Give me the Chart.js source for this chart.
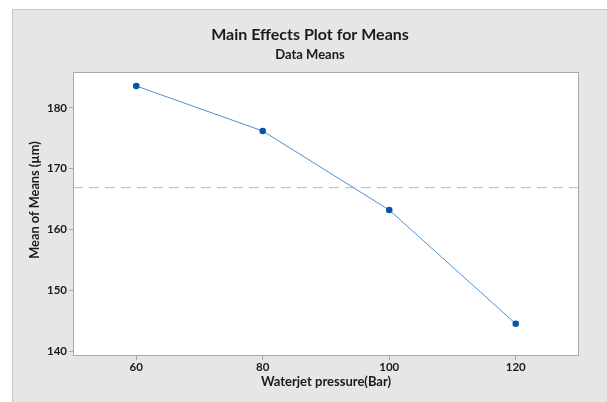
<!DOCTYPE html>
<html>
<head>
<meta charset="utf-8">
<script src="https://cdn.jsdelivr.net/npm/chart.js@4"></script>
<style>
html,body{margin:0;padding:0;background:#fff;}
#c{display:block;}
</style>
</head>
<body>
<canvas id="c" width="607" height="402" style="width:607px;height:402px"></canvas>
<script>
// ---- data ----
const categories = [60, 80, 100, 120];
const means = [183.6, 176.2, 163.2, 144.5];
const xTicks = [60, 80, 100, 120];
const yTicks = [140, 150, 160, 170, 180];
const titleText = 'Main Effects Plot for Means';
const subtitleText = 'Data Means';
const xTitle = 'Waterjet pressure(Bar)';
const yTitle = 'Mean of Means (\u00b5m)';

const grandMean = means.reduce((a, b) => a + b, 0) / means.length;
const X_MIN = 50, X_MAX = 130, Y_MIN = 139.2, Y_MAX = 185.9;

const FONT = 'Lato, "Open Sans", sans-serif';

const bgPlugin = {
  id: 'bg',
  beforeDraw(chart) {
    const ctx = chart.ctx;
    const a = chart.chartArea;
    ctx.save();
    ctx.fillStyle = '#ffffff';
    ctx.fillRect(0, 0, chart.width, chart.height);
    ctx.fillStyle = '#e6e6e6';
    ctx.fillRect(12, 9, chart.width - 12, chart.height - 9);
    ctx.strokeStyle = '#c4c4c4';
    ctx.lineWidth = 1;
    ctx.beginPath();
    ctx.moveTo(12.5, chart.height);
    ctx.lineTo(12.5, 9.5);
    ctx.lineTo(chart.width, 9.5);
    ctx.stroke();
    ctx.fillStyle = '#ffffff';
    ctx.fillRect(a.left, a.top, a.right - a.left, a.bottom - a.top);
    ctx.restore();
  },
  afterDraw(chart) {
    const ctx = chart.ctx;
    const a = chart.chartArea;
    ctx.save();
    ctx.strokeStyle = '#a8a8a8';
    ctx.lineWidth = 1;
    ctx.strokeRect(Math.round(a.left) + 0.5, Math.round(a.top) + 0.5,
      Math.round(a.right - a.left) - 1, Math.round(a.bottom - a.top) - 1);
    ctx.fillStyle = '#1a1a1a';
    ctx.textAlign = 'center';
    ctx.textBaseline = 'middle';
    ctx.font = 'bold 16px ' + FONT;
    ctx.fillText(titleText, 310, 35);
    ctx.font = 'bold 13px ' + FONT;
    ctx.fillText(subtitleText, 310, 55);
    ctx.fillText(xTitle, 326, 382);
    ctx.font = 'bold 12.8px ' + FONT;
    ctx.translate(35, 200);
    ctx.rotate(-Math.PI / 2);
    ctx.fillText(yTitle, 0, 0);
    ctx.restore();
  }
};

new Chart(document.getElementById('c'), {
  type: 'scatter',
  data: {
    datasets: [
      {
        label: 'Means',
        data: categories.map((x, i) => ({ x: x, y: means[i] })),
        showLine: true,
        borderColor: '#4f8fd6',
        borderWidth: 1,
        pointBackgroundColor: '#0a54a8',
        pointBorderColor: '#0a54a8',
        pointRadius: 3.3,
        pointBorderWidth: 0,
        order: 1
      },
      {
        label: 'Grand mean',
        data: [{ x: X_MIN, y: grandMean }, { x: X_MAX, y: grandMean }],
        showLine: true,
        borderColor: '#b8b8b8',
        borderWidth: 1,
        borderDash: [10, 6],
        pointRadius: 0,
        order: 2
      }
    ]
  },
  plugins: [bgPlugin],
  options: {
    responsive: false,
    devicePixelRatio: 1,
    animation: false,
    layout: { padding: { top: 72, right: 28, bottom: 0, left: 0 } },
    plugins: { legend: { display: false }, tooltip: { enabled: false }, title: { display: false } },
    scales: {
      x: {
        type: 'linear',
        min: X_MIN, max: X_MAX,
        afterBuildTicks(axis) { axis.ticks = xTicks.map(v => ({ value: v })); },
        afterFit(scale) { scale.height = 46; },
        grid: { display: true, drawOnChartArea: false, drawTicks: true, tickLength: 4, color: '#a8a8a8' },
        border: { display: false },
        ticks: { color: '#1a1a1a', padding: 0, font: { family: FONT, size: 11.5, weight: 'bold' } },
        title: { display: false }
      },
      y: {
        type: 'linear',
        min: Y_MIN, max: Y_MAX,
        afterBuildTicks(axis) { axis.ticks = yTicks.map(v => ({ value: v })); },
        afterFit(scale) { scale.width = 73; },
        grid: { display: true, drawOnChartArea: false, drawTicks: true, tickLength: 4, color: '#a8a8a8' },
        border: { display: false },
        ticks: { color: '#1a1a1a', padding: 2, font: { family: FONT, size: 11.5, weight: 'bold' } },
        title: { display: false }
      }
    }
  }
});
</script>
</body>
</html>
